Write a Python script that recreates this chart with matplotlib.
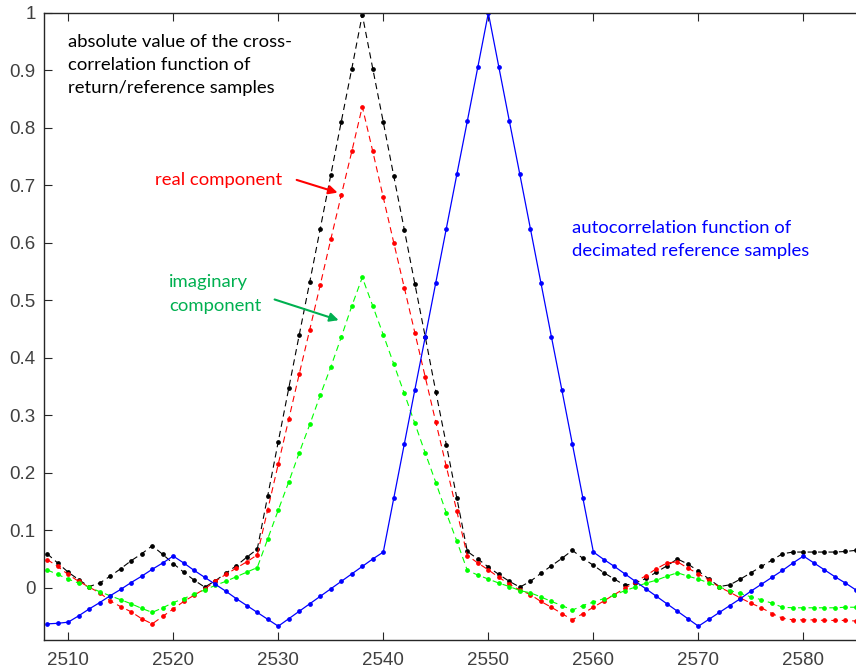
import numpy as np
import matplotlib
matplotlib.use('Agg')
import matplotlib.pyplot as plt

# sample lag index
lags = np.arange(2508, 2586)

# autocorrelation of decimated reference samples
auto_corr = [-0.063, -0.062, -0.060, -0.049, -0.037, -0.026, -0.014, -0.003, 0.009, 0.020,
             0.032, 0.043, 0.055, 0.043, 0.030, 0.018, 0.006, -0.006, -0.019, -0.031,
             -0.043, -0.055, -0.067, -0.054, -0.041, -0.028, -0.015, -0.002, 0.011, 0.024,
             0.037, 0.050, 0.062, 0.156, 0.250, 0.344, 0.437, 0.531, 0.625, 0.719,
             0.812, 0.906, 1.000, 0.906, 0.812, 0.719, 0.625, 0.531, 0.437, 0.344,
             0.250, 0.156, 0.062, 0.049, 0.037, 0.024, 0.011, -0.002, -0.015, -0.028,
             -0.041, -0.054, -0.067, -0.055, -0.043, -0.031, -0.019, -0.006, 0.006, 0.018,
             0.030, 0.043, 0.055, 0.043, 0.031, 0.019, 0.008, -0.004]

# |cross-correlation| of return / reference samples
abs_xcorr = [0.059, 0.043, 0.027, 0.014, 0.002, 0.008, 0.020, 0.033, 0.047, 0.059,
             0.073, 0.058, 0.042, 0.027, 0.013, 0.001, 0.012, 0.025, 0.038, 0.053,
             0.067, 0.160, 0.254, 0.347, 0.440, 0.532, 0.625, 0.718, 0.811, 0.903,
             0.997, 0.903, 0.810, 0.716, 0.623, 0.529, 0.436, 0.341, 0.249, 0.156,
             0.063, 0.050, 0.036, 0.023, 0.011, 0.001, 0.011, 0.025, 0.038, 0.051,
             0.065, 0.051, 0.039, 0.026, 0.015, 0.004, 0.008, 0.016, 0.027, 0.038,
             0.050, 0.041, 0.029, 0.015, 0.002, 0.005, 0.015, 0.026, 0.037, 0.048,
             0.059, 0.062, 0.062, 0.062, 0.062, 0.062, 0.063, 0.065]

# real component
real_xcorr = [0.049, 0.037, 0.023, 0.011, 0.001, -0.009, -0.023, -0.033, -0.042, -0.054,
              -0.063, -0.050, -0.037, -0.024, -0.013, -0.002, 0.011, 0.023, 0.034, 0.045,
              0.057, 0.136, 0.215, 0.293, 0.372, 0.449, 0.527, 0.606, 0.683, 0.759,
              0.837, 0.759, 0.679, 0.600, 0.522, 0.444, 0.366, 0.288, 0.211, 0.133,
              0.056, 0.043, 0.031, 0.018, 0.006, -0.004, -0.012, -0.024, -0.034, -0.045,
              -0.056, -0.045, -0.034, -0.023, -0.012, -0.001, 0.010, 0.021, 0.033, 0.043,
              0.045, 0.034, 0.024, 0.013, 0.001, -0.008, -0.018, -0.027, -0.035, -0.045,
              -0.053, -0.056, -0.056, -0.056, -0.057, -0.057, -0.057, -0.058]

# imaginary component
imag_xcorr = [0.031, 0.023, 0.015, 0.008, 0.001, -0.007, -0.014, -0.021, -0.028, -0.036,
              -0.043, -0.035, -0.026, -0.019, -0.011, -0.004, 0.004, 0.011, 0.019, 0.027,
              0.035, 0.085, 0.135, 0.184, 0.235, 0.284, 0.335, 0.384, 0.436, 0.490,
              0.540, 0.490, 0.440, 0.389, 0.338, 0.286, 0.234, 0.183, 0.130, 0.081,
              0.030, 0.022, 0.015, 0.008, 0.002, -0.005, -0.009, -0.016, -0.024, -0.031,
              -0.039, -0.031, -0.025, -0.019, -0.013, -0.005, 0.001, 0.008, 0.013, 0.020,
              0.026, 0.020, 0.015, 0.008, 0.001, -0.005, -0.010, -0.016, -0.021, -0.027,
              -0.034, -0.035, -0.035, -0.035, -0.035, -0.035, -0.034, -0.034]

x_ticks = [2510, 2520, 2530, 2540, 2550, 2560, 2570, 2580]
y_ticks = [0, 0.1, 0.2, 0.3, 0.4, 0.5, 0.6, 0.7, 0.8, 0.9, 1]
y_tick_labels = ['0', '0.1', '0.2', '0.3', '0.4', '0.5', '0.6', '0.7', '0.8', '0.9', '1']

plt.rcParams['font.family'] = ['Liberation Sans', 'DejaVu Sans']
plt.rcParams['lines.scale_dashes'] = False

fig = plt.figure(figsize=(8.56, 6.7), dpi=100)
ax = fig.add_axes([0.0514, 0.0448, 0.9486, 0.9358])

dash = (0, (4.5, 3.0))
ax.plot(lags, abs_xcorr, color='black', lw=0.8, linestyle=dash, marker='o', ms=2.4)
ax.plot(lags, real_xcorr, color='#ff0000', lw=0.8, linestyle=dash, marker='o', ms=2.4)
ax.plot(lags, imag_xcorr, color='#00ff00', lw=0.8, linestyle=dash, marker='o', ms=2.4)
ax.plot(lags, auto_corr, color='#0000ff', lw=0.9, linestyle='-', marker='o', ms=2.4)

ax.set_xlim(2507.7, 2585)
ax.set_ylim(-0.091, 1.0)
ax.set_xticks(x_ticks)
ax.set_yticks(y_ticks)
ax.set_yticklabels(y_tick_labels)
ax.tick_params(direction='in', length=6, width=0.8, color='#262626',
               labelsize=13.5, labelcolor='#404040', top=True, right=False)
ax.tick_params(axis='x', pad=9)
ax.tick_params(axis='y', pad=6)
for side in ['left', 'top', 'bottom']:
    ax.spines[side].set_color('#262626')
    ax.spines[side].set_linewidth(1.0)
ax.spines['right'].set_visible(False)

# annotations
note_font = 'Lato'
fs = 13.3
ax.text(2510, 0.964, 'absolute value of the cross-\ncorrelation function of\nreturn/reference samples',
        color='black', fontsize=fs, family=note_font, va='top', ha='left', linespacing=1.55)
ax.text(2518.3, 0.70, 'real component', color='#ff0000', fontsize=fs, family=note_font,
        va='baseline', ha='left')
ax.annotate('', xy=(2535.9, 0.686), xytext=(2531.5, 0.711),
            arrowprops=dict(arrowstyle='-|>', color='#ff0000', lw=1.5, mutation_scale=13))
ax.text(2519.6, 0.545, 'imaginary\ncomponent', color='#00b050', fontsize=fs, family=note_font,
        va='top', ha='left', linespacing=1.55)
ax.annotate('', xy=(2536.0, 0.464), xytext=(2529.4, 0.503),
            arrowprops=dict(arrowstyle='-|>', color='#00b050', lw=1.5, mutation_scale=13))
ax.text(2558.0, 0.64, 'autocorrelation function of\ndecimated reference samples',
        color='#0000ff', fontsize=fs, family=note_font, va='top', ha='left', linespacing=1.55)

fig.savefig('out.png', dpi=100)
